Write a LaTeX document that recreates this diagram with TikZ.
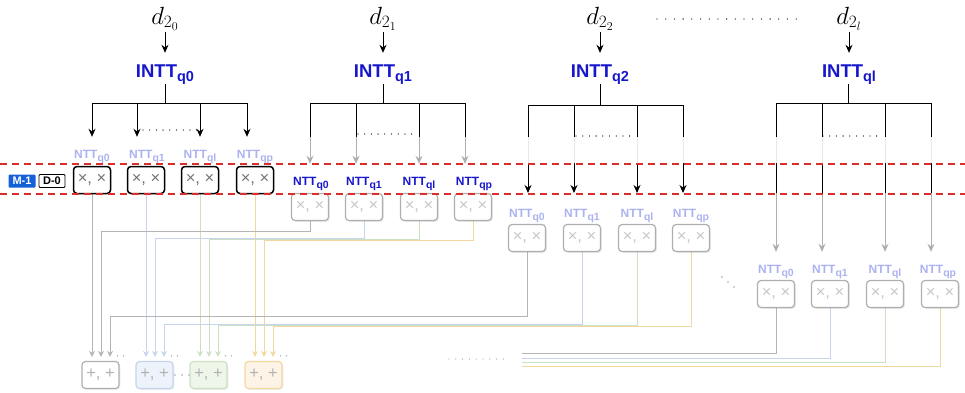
\documentclass[tikz,border=0pt]{standalone}
\usepackage{fontspec}
\setsansfont{Liberation Sans}
\usetikzlibrary{arrows.meta,shadows,calc}
\pgfdeclarelayer{bg}
\pgfsetlayers{bg,main}
\definecolor{inttblue}{RGB}{22,22,205}
\definecolor{nttfade}{RGB}{172,178,240}
\definecolor{boxgray}{RGB}{175,175,175}
\definecolor{arrgray}{RGB}{175,175,175}
\definecolor{mred}{RGB}{222,45,45}
\definecolor{mblue}{RGB}{22,96,215}
\definecolor{cgray}{RGB}{180,180,180}
\definecolor{cblue}{RGB}{198,212,238}
\definecolor{cgreen}{RGB}{204,225,196}
\definecolor{corange}{RGB}{243,215,160}
\definecolor{fblue}{RGB}{237,243,251}
\definecolor{fgreen}{RGB}{238,246,234}
\definecolor{forange}{RGB}{253,244,231}
\newcommand\lsub[1]{\raisebox{-0.28em}{\fontsize{10.5}{10.5}\selectfont #1}}
\newcommand\isub[1]{\raisebox{-0.25em}{\fontsize{14.5}{14.5}\selectfont #1}}
\begin{document}
\begin{tikzpicture}[x=1pt,y=-1pt,
  dlab/.style={anchor=base, inner sep=0pt, text depth=8pt, font=\fontsize{24}{24}\selectfont},
  intt/.style={anchor=base, inner sep=0pt, text height=24pt, text depth=7pt, text=inttblue, font=\sffamily\bfseries\fontsize{18.5}{18.5}\selectfont},
  lbl/.style={anchor=base, inner sep=0pt, text height=21pt, text depth=3pt, font=\sffamily\bfseries\fontsize{12}{12}\selectfont},
  lfade/.style={lbl, text=nttfade},
  lblue/.style={lbl, text=inttblue},
  mbox/.style={draw, rounded corners=3.5pt, minimum width=37pt, minimum height=27pt, inner sep=0pt, fill=white, font=\sffamily\fontsize{16.5}{16.5}\selectfont},
  mblack/.style={mbox, line width=1.5pt, draw=black, text=black!55},
  mfade/.style={mbox, line width=1.2pt, draw=boxgray, text=black!22, drop shadow={shadow xshift=1.3pt, shadow yshift=-1.3pt, opacity=0.15, fill=black!60}},
  abox/.style={mbox, line width=1.2pt, text=black!30, drop shadow={shadow xshift=1.3pt, shadow yshift=-1.3pt, opacity=0.12, fill=black!60}},
  blk/.style={draw=black, line width=0.9pt},
  barr/.style={blk, -{Stealth[length=8pt,width=7pt]}},
  garr/.style={draw=arrgray, line width=0.9pt, -{Stealth[length=8pt,width=7pt]}},
  lite/.style={draw=black!9, line width=0.9pt},
  dotrow/.style={line width=1.3pt, line cap=round, dash pattern=on 0pt off 6.7pt},
  wire/.style={line width=1pt},
  warr/.style={wire, -{Stealth[length=6pt,width=6pt]}},
  reddash/.style={draw=mred, line width=1.8pt, dash pattern=on 7pt off 5pt},
  badge/.style={minimum width=27pt, minimum height=13pt, inner sep=1pt, rounded corners=1pt, font=\sffamily\bfseries\fontsize{11}{11}\selectfont},
  sdot/.style={fill=black!35, draw=none, circle, inner sep=0pt, minimum size=1.6pt}
]
\useasboundingbox (0,0) rectangle (965,392);

% y levels
\coordinate (yA) at (0,137);
\coordinate (yB) at (0,163);
\coordinate (yC) at (0,193);

% ---------------- Group 0 ----------------
\node[dlab] (d0) at (165,24) {$d_{2_0}$};
\node[intt] (I0) at (165,77) {INTT\isub{q0}};
\coordinate (h0) at (165,103);
\coordinate (t00) at (92,103);
\coordinate (t01) at (137,103);
\coordinate (t02) at (200,103);
\coordinate (t03) at (247,103);
\node[lfade] (L00) at (92,158) {NTT\lsub{q0}};
\node[lfade] (L01) at (147,158) {NTT\lsub{q1}};
\node[lfade] (L02) at (200,158) {NTT\lsub{ql}};
\node[lfade] (L03) at (255,158) {NTT\lsub{qp}};
\draw[barr] (d0.south) -- (d0.south |- I0.north);
\draw[blk] (h0 |- I0.south) -- (h0);
\draw[blk] (t00) -- (t03);
\foreach \k in {0,1,2,3} {\draw[barr] (t0\k) -- (t0\k |- L0\k.north);}
\draw[dotrow] (143,130) -- (197,130);
\node[mblack] (m00) at (92,180) {×, ×};
\node[mblack] (m01) at (146,180) {×, ×};
\node[mblack] (m02) at (200,180) {×, ×};
\node[mblack] (m03) at (255,180) {×, ×};

% ---------------- Group 1 ----------------
\node[dlab] (d1) at (383,24) {$d_{2_1}$};
\node[intt] (I1) at (383,77) {INTT\isub{q1}};
\coordinate (h1) at (383,103);
\coordinate (t10) at (310,103);
\coordinate (t11) at (356,103);
\coordinate (t12) at (419,103);
\coordinate (t13) at (465,103);
\node[lblue] (L10) at (311,185) {NTT\lsub{q0}};
\node[lblue] (L11) at (364,185) {NTT\lsub{q1}};
\node[lblue] (L12) at (419,185) {NTT\lsub{ql}};
\node[lblue] (L13) at (474,185) {NTT\lsub{qp}};
\draw[barr] (d1.south) -- (d1.south |- I1.north);
\draw[blk] (h1 |- I1.south) -- (h1);
\draw[blk] (t10) -- (t13);
\foreach \k in {0,1,2,3} {
  \draw[blk] (t1\k) -- (t1\k |- yA);
  \draw[garr] (t1\k |- yA) -- (t1\k |- L1\k.north);
}
\draw[dotrow] (358,134) -- (416,134);
\node[mfade] (m10) at (310,207) {×, ×};
\node[mfade] (m11) at (364,207) {×, ×};
\node[mfade] (m12) at (419,207) {×, ×};
\node[mfade] (m13) at (473,207) {×, ×};

% ---------------- Group 2 ----------------
\node[dlab] (d2) at (600,24) {$d_{2_2}$};
\node[intt] (I2) at (600,77) {INTT\isub{q2}};
\coordinate (h2) at (600,105);
\coordinate (t20) at (528,105);
\coordinate (t21) at (574,105);
\coordinate (t22) at (637,105);
\coordinate (t23) at (683,105);
\node[lfade] (L20) at (527,217) {NTT\lsub{q0}};
\node[lfade] (L21) at (582,217) {NTT\lsub{q1}};
\node[lfade] (L22) at (637,217) {NTT\lsub{ql}};
\node[lfade] (L23) at (691,217) {NTT\lsub{qp}};
\draw[barr] (d2.south) -- (d2.south |- I2.north);
\draw[blk] (h2 |- I2.south) -- (h2);
\draw[blk] (t20) -- (t23);
\foreach \k in {0,1,2,3} {
  \draw[blk] (t2\k) -- (t2\k |- yA);
  \draw[lite] (t2\k |- yA) -- (t2\k |- yB);
  \draw[barr] (t2\k |- yB) -- (t2\k |- yC);
}
\draw[dotrow] (576,136) -- (634,136);
\node[mfade] (m20) at (527,238) {×, ×};
\node[mfade] (m21) at (582,238) {×, ×};
\node[mfade] (m22) at (637,238) {×, ×};
\node[mfade] (m23) at (691,238) {×, ×};

% ---------------- Group 3 ----------------
\node[dlab] (d3) at (849,24) {$d_{2_l}$};
\node[intt] (I3) at (849,77) {INTT\isub{ql}};
\coordinate (h3) at (848,103);
\coordinate (t30) at (776,103);
\coordinate (t31) at (822,103);
\coordinate (t32) at (885,103);
\coordinate (t33) at (931,103);
\node[lfade] (L30) at (776,273) {NTT\lsub{q0}};
\node[lfade] (L31) at (830,273) {NTT\lsub{q1}};
\node[lfade] (L32) at (885,273) {NTT\lsub{ql}};
\node[lfade] (L33) at (938,273) {NTT\lsub{qp}};
\draw[barr] (d3.south) -- (d3.south |- I3.north);
\draw[blk] (h3 |- I3.south) -- (h3);
\draw[blk] (t30) -- (t33);
\foreach \k in {0,1,2,3} {
  \draw[blk] (t3\k) -- (t3\k |- yA);
  \draw[lite] (t3\k |- yA) -- (t3\k |- yB);
  \draw[blk] (t3\k |- yB) -- (t3\k |- yC);
  \draw[garr] (t3\k |- yC) -- (t3\k |- L3\k.north);
}
\draw[dotrow] (823,136) -- (883,136);
\node[mfade] (m30) at (776,294) {×, ×};
\node[mfade] (m31) at (830,294) {×, ×};
\node[mfade] (m32) at (885,294) {×, ×};
\node[mfade] (m33) at (940,294) {×, ×};

% top dots between d_{2_2} and d_{2_l}
\draw[dotrow, dash pattern=on 0pt off 8.7pt] (657,19) -- (797,19);
% diagonal dots
\node[sdot] (dd1) at (722,277) {};
\node[sdot] (dd2) at (728,282) {};
\node[sdot] (dd3) at (734,287) {};

% ---------------- Adders ----------------
\node[abox, draw=boxgray] (a0) at (100.5,375) {+, +};
\node[abox, draw=cblue, fill=fblue] (a1) at (154.5,375) {+, +};
\node[abox, draw=cgreen, fill=fgreen] (a2) at (208.5,375) {+, +};
\node[abox, draw=corange, fill=forange] (a3) at (263.5,375) {+, +};
\foreach \j in {0,1,2,3} {
  \coordinate (p\j2) at ($(a\j.north)+(0.5,-4)$);
  \coordinate (p\j3) at ($(a\j.north)+(9.5,-4)$);
  \node[sdot] (q\j a) at ($(a\j.north)+(17,-5)$) {};
  \node[sdot] (q\j b) at ($(a\j.north)+(23,-5)$) {};
}
\node[sdot] (mid1) at (175,375) {};
\node[sdot] (mid2) at (182,375) {};
\node[sdot] (mid3) at (189,375) {};
\draw[dotrow, draw=black!35, dash pattern=on 0pt off 6.8pt] (449,359) -- (510,359);

% routing levels
\coordinate (r10) at (0,231);
\coordinate (r11) at (0,238.5);
\coordinate (r12) at (0,239.5);
\coordinate (r13) at (0,240.5);
\coordinate (r20) at (0,316);
\coordinate (r21) at (0,324.5);
\coordinate (r22) at (0,325.5);
\coordinate (r23) at (0,326.5);
\coordinate (r30) at (0,353);
\coordinate (r31) at (0,358);
\coordinate (r32) at (0,362);
\coordinate (r33) at (0,366);
\coordinate (xend) at (522,0);

\begin{pgfonlayer}{bg}
  % group 0 straight down
  \draw[warr, cgray] (m00.south) -- (m00.south |- p02);
  \draw[warr, cblue] (m01.south) -- (m01.south |- p12);
  \draw[warr, cgreen] (m02.south) -- (m02.south |- p22);
  \draw[warr, corange] (m03.south) -- (m03.south |- p32);
  % group 1
  \draw[warr, cgray] (m10.south) -- (m10.south |- r10) -| (p02);
  \draw[warr, cblue] (m11.south) -- (m11.south |- r11) -| (p12);
  \draw[warr, cgreen] (m12.south) -- (m12.south |- r12) -| (p22);
  \draw[warr, corange] (m13.south) -- (m13.south |- r13) -| (p32);
  % group 2
  \draw[warr, cgray] (m20.south) -- (m20.south |- r20) -| (p03);
  \draw[warr, cblue] (m21.south) -- (m21.south |- r21) -| (p13);
  \draw[warr, cgreen] (m22.south) -- (m22.south |- r22) -| (p23);
  \draw[warr, corange] (m23.south) -- (m23.south |- r23) -| (p33);
  % group 3 (truncated)
  \draw[wire, cgray] (m30.south) -- (m30.south |- r30) -- (r30 -| xend);
  \draw[wire, cblue] (m31.south) -- (m31.south |- r31) -- (r31 -| xend);
  \draw[wire, cgreen] (m32.south) -- (m32.south |- r32) -- (r32 -| xend);
  \draw[wire, corange] (m33.south) -- (m33.south |- r33) -- (r33 -| xend);
\end{pgfonlayer}

% band
\draw[reddash] (0,164) -- (965,164);
\draw[reddash] (0,194) -- (965,194);
\node[badge, fill=mblue, text=white] (M1) at (22,181) {M-1};
\node[badge, draw=black, fill=white, line width=0.9pt, minimum width=26pt] (D0) at (52,181) {D-0};
\end{tikzpicture}
\end{document}
